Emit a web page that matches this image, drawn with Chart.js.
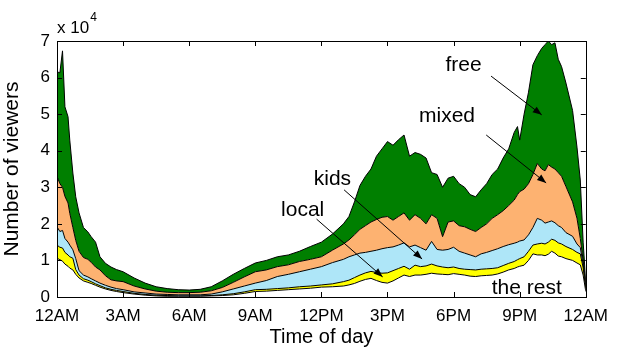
<!DOCTYPE html>
<html>
<head>
<meta charset="utf-8">
<script src="https://cdn.jsdelivr.net/npm/chart.js@4/dist/chart.umd.min.js"></script>
<style>
html,body{margin:0;padding:0;background:#fff;}
#wrap{width:617px;height:351px;}
</style>
</head>
<body>
<div id="wrap"><canvas id="c" width="617" height="351"></canvas></div>
<script>
// Time of day in hours (0 = 12AM, 24 = 12AM next day)
const hours = [0,0.13,0.25,0.36,0.5,0.58,0.72,0.85,1,1.2,1.4,1.55,1.75,1.95,2.2,2.45,2.7,3,3.5,4,4.5,5,5.5,6,6.5,7,7.5,8,8.5,9,9.5,10,10.5,11,11.5,12,12.5,13,13.25,13.5,13.75,14,14.25,14.5,14.75,15,15.25,15.5,15.75,16,16.25,16.5,16.75,17,17.25,17.5,17.75,18,18.25,18.5,18.75,19,19.25,19.5,19.75,20,20.25,20.5,20.75,20.9,21,21.2,21.4,21.6,21.8,22,22.15,22.3,22.45,22.6,22.75,22.9,23.1,23.4,23.6,23.75,23.88,24];

// Viewers per category, in units of 10^4
const theRest = [1.06,1.02,0.98,0.90,0.84,0.79,0.74,0.62,0.52,0.44,0.40,0.37,0.32,0.27,0.22,0.18,0.15,0.12,0.08,0.05,0.03,0.02,0.02,0.02,0.02,0.03,0.04,0.06,0.10,0.15,0.16,0.18,0.20,0.22,0.24,0.27,0.28,0.30,0.33,0.37,0.43,0.48,0.51,0.45,0.40,0.38,0.44,0.52,0.60,0.56,0.60,0.60,0.62,0.65,0.63,0.62,0.61,0.64,0.62,0.60,0.57,0.56,0.58,0.59,0.60,0.63,0.68,0.74,0.78,0.82,0.84,0.87,1.00,1.18,1.15,1.15,1.13,1.17,1.25,1.20,1.12,1.10,1.05,1.00,0.93,0.88,0.60,0.15];
const local   = [0.36,0.34,0.36,0.32,0.31,0.31,0.32,0.13,0.08,0.06,0.06,0.05,0.04,0.04,0.03,0.03,0.03,0.03,0.02,0.02,0.02,0.02,0.01,0.01,0.01,0.01,0.02,0.03,0.04,0.05,0.05,0.05,0.05,0.06,0.06,0.06,0.08,0.12,0.13,0.16,0.17,0.18,0.19,0.22,0.25,0.28,0.28,0.26,0.24,0.20,0.27,0.23,0.23,0.25,0.22,0.20,0.19,0.18,0.16,0.16,0.18,0.18,0.18,0.18,0.18,0.17,0.18,0.18,0.19,0.20,0.21,0.23,0.25,0.24,0.30,0.32,0.32,0.33,0.33,0.35,0.36,0.35,0.33,0.30,0.29,0.30,0.20,0.05];
const kids    = [0.50,0.43,0.48,0.38,0.35,0.32,0.23,0.30,0.12,0.10,0.09,0.08,0.08,0.07,0.07,0.06,0.05,0.05,0.04,0.04,0.03,0.03,0.03,0.03,0.03,0.04,0.08,0.13,0.16,0.18,0.24,0.33,0.37,0.41,0.46,0.50,0.58,0.61,0.64,0.62,0.60,0.56,0.55,0.61,0.67,0.69,0.65,0.64,0.64,0.61,0.55,0.52,0.43,0.62,0.45,0.46,0.50,0.54,0.47,0.44,0.40,0.36,0.42,0.45,0.49,0.52,0.52,0.51,0.50,0.48,0.48,0.46,0.45,0.48,0.70,0.63,0.57,0.55,0.50,0.48,0.47,0.45,0.38,0.36,0.23,0.17,0.10,0.05];
const mixed   = [1.38,1.31,1.18,1.15,1.07,0.87,0.61,0.50,0.53,0.48,0.48,0.45,0.38,0.36,0.26,0.20,0.21,0.22,0.16,0.11,0.08,0.06,0.06,0.06,0.07,0.09,0.12,0.18,0.25,0.31,0.29,0.27,0.26,0.28,0.27,0.27,0.34,0.42,0.46,0.55,0.65,0.73,0.80,0.84,0.86,0.85,0.73,0.78,0.82,0.73,0.83,0.80,0.72,0.73,0.85,0.37,0.75,0.72,0.70,0.72,0.70,0.69,0.72,0.78,0.88,0.93,0.98,1.07,1.18,1.30,1.35,1.39,1.40,1.45,1.50,1.40,1.43,1.57,1.47,1.47,1.45,1.40,1.26,0.94,0.70,0.25,0.10,0.05];
const free    = [2.86,3.03,3.73,2.45,2.36,2.00,1.49,1.19,1.05,0.82,0.75,0.70,0.68,0.36,0.34,0.35,0.31,0.27,0.22,0.16,0.12,0.10,0.08,0.07,0.08,0.11,0.18,0.22,0.23,0.24,0.26,0.27,0.27,0.28,0.35,0.40,0.44,0.55,0.64,0.90,1.20,1.35,1.45,1.73,1.87,2.05,2.05,2.10,2.13,1.75,1.70,1.75,1.80,1.15,1.20,1.35,1.20,1.22,1.15,1.08,0.95,0.95,1.03,1.10,1.20,1.25,1.44,1.55,1.85,1.86,1.41,2.05,2.50,3.00,2.95,3.30,3.45,3.38,3.35,3.45,3.10,3.00,2.83,2.50,1.95,1.60,0.50,0.10];

const xTickLabels = ['12AM','3AM','6AM','9AM','12PM','3PM','6PM','9PM','12AM'];
const yTickValues = [0,1,2,3,4,5,6,7];

const seriesNames = ['the rest','local','kids','mixed','free'];
const seriesColors = ['#ffffff','#ffff00','#aee6f8','#fdb271','#007f00'];
const seriesData = [theRest, local, kids, mixed, free];

// annotations: label, text centre (hour, value), arrow from/to (hour, value)
const annotations = [
  {text:'free',     at:[18.45,6.34], from:[19.7,6.04], to:[22.0,4.98]},
  {text:'mixed',    at:[17.7,4.95], from:[19.48,4.43], to:[22.2,3.12]},
  {text:'kids',     at:[12.5,3.23], from:[13.03,2.93], to:[16.57,1.04]},
  {text:'local',    at:[11.15,2.38], from:[11.78,2.13], to:[14.78,0.55]},
  {text:'the rest', at:[21.32,0.25]}
];

const FONT = "'Liberation Sans', Arial, Helvetica, sans-serif";

const datasets = seriesData.map((d, i) => ({
  label: seriesNames[i],
  data: hours.map((h, j) => ({x: h, y: d[j]})),
  backgroundColor: seriesColors[i],
  borderColor: '#000',
  borderWidth: 1,
  pointRadius: 0,
  tension: 0,
  fill: i === 0 ? 'origin' : '-1'
}));

const decor = {
  id: 'decor',
  afterDraw(chart) {
    const ctx = chart.ctx;
    const xs = chart.scales.x, ys = chart.scales.y;
    const a = chart.chartArea;
    ctx.save();
    ctx.strokeStyle = '#000';
    ctx.lineWidth = 1;
    ctx.strokeRect(Math.round(a.left)+0.5, Math.round(a.top)+0.5, Math.round(a.right-a.left), Math.round(a.bottom-a.top));
    const L = 5;
    ctx.beginPath();
    for (let i = 0; i < xTickLabels.length; i++) {
      const px = Math.round(xs.getPixelForValue(i*3)) + 0.5;
      ctx.moveTo(px, a.bottom); ctx.lineTo(px, a.bottom - L);
      ctx.moveTo(px, a.top); ctx.lineTo(px, a.top + L);
    }
    for (const v of yTickValues) {
      const py = Math.round(ys.getPixelForValue(v)) + 0.5;
      ctx.moveTo(a.left, py); ctx.lineTo(a.left + L, py);
      ctx.moveTo(a.right, py); ctx.lineTo(a.right - L, py);
    }
    ctx.stroke();
    ctx.fillStyle = '#000';
    ctx.textBaseline = 'alphabetic';
    ctx.textAlign = 'left';
    ctx.font = '17px ' + FONT;
    ctx.fillText('x 10', a.left, a.top - 8);
    const w = ctx.measureText('x 10').width;
    ctx.font = '12px ' + FONT;
    ctx.fillText('4', a.left + w + 1, a.top - 20);
    ctx.font = '21px ' + FONT;
    ctx.textAlign = 'center';
    ctx.textBaseline = 'middle';
    for (const an of annotations) {
      ctx.fillText(an.text, xs.getPixelForValue(an.at[0]), ys.getPixelForValue(an.at[1]));
      if (an.from) {
        const x1 = xs.getPixelForValue(an.from[0]), y1 = ys.getPixelForValue(an.from[1]);
        const x2 = xs.getPixelForValue(an.to[0]), y2 = ys.getPixelForValue(an.to[1]);
        ctx.beginPath(); ctx.moveTo(x1, y1); ctx.lineTo(x2, y2); ctx.stroke();
        const ang = Math.atan2(y2 - y1, x2 - x1), hl = 9, hw = 3.5;
        ctx.beginPath();
        ctx.moveTo(x2, y2);
        ctx.lineTo(x2 - hl*Math.cos(ang) + hw*Math.sin(ang), y2 - hl*Math.sin(ang) - hw*Math.cos(ang));
        ctx.lineTo(x2 - hl*Math.cos(ang) - hw*Math.sin(ang), y2 - hl*Math.sin(ang) + hw*Math.cos(ang));
        ctx.closePath(); ctx.fill();
      }
    }
    ctx.restore();
  }
};

new Chart(document.getElementById('c'), {
  type: 'line',
  data: { datasets },
  options: {
    responsive: false,
    animation: false,
    devicePixelRatio: 1,
    layout: { padding: { left: 0, right: 24, top: 41, bottom: 0 } },
    plugins: { legend: { display: false }, tooltip: { enabled: false } },
    scales: {
      x: {
        type: 'linear', min: 0, max: 24,
        grid: { display: false, drawTicks: false },
        border: { display: false },
        ticks: {
          stepSize: 3, autoSkip: false, maxRotation: 0, padding: 9,
          color: '#000', font: { family: FONT, size: 17 },
          callback: (v) => xTickLabels[Math.round(v/3)]
        },
        title: { display: true, text: 'Time of day', color: '#000', font: { family: FONT, size: 20 }, padding: { top: 0, bottom: 2 } },
        afterFit: (s) => { s.height = 54; }
      },
      y: {
        type: 'linear', min: 0, max: 7, stacked: true,
        grid: { display: false, drawTicks: false },
        border: { display: false },
        ticks: { stepSize: 1, padding: 7, color: '#000', font: { family: FONT, size: 17 } },
        title: { display: true, text: 'Number of viewers', color: '#000', font: { family: FONT, size: 21 }, padding: { top: 0, bottom: 0 } },
        afterFit: (s) => { s.width = 57; }
      }
    }
  },
  plugins: [decor]
});
</script>
</body>
</html>
